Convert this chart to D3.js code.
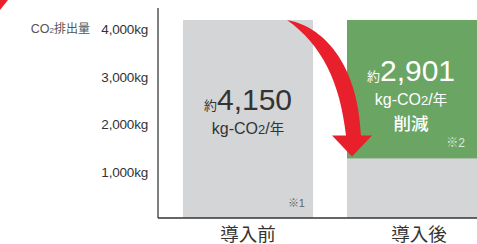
<!DOCTYPE html>
<html>
<head>
<meta charset="utf-8">
<script src="https://cdn.jsdelivr.net/npm/d3@7"></script>
<style>
  body { margin: 0; background: #fff; }
  text { font-family: "Liberation Sans", Arial, "Noto Sans CJK JP", sans-serif; }
</style>
</head>
<body>
<script>
// data
var categories = ["導入前", "導入後"];
var totals = [4150, 4150];
var reduction = [0, 2901];
var yTicks = [1000, 2000, 3000, 4000];
var tickLabels = ["1,000kg", "2,000kg", "3,000kg", "4,000kg"];
var notes = ["※1", "※2"];

var W = 477, H = 244;
var svg = d3.select("body").append("svg")
  .attr("width", W)
  .attr("height", H);

var x = d3.scaleBand()
  .domain(categories)
  .range([183, 477])
  .paddingInner(34 / 164)
  .paddingOuter(0);

var y = d3.scaleLinear()
  .domain([0, 4150])
  .range([218, 20]);

var bw = x.bandwidth();

// grey full bars
svg.selectAll(".bar")
  .data(categories)
  .enter()
  .append("rect")
  .attr("x", function(d) { return x(d); })
  .attr("y", function(d, i) { return y(totals[i]); })
  .attr("width", bw)
  .attr("height", function(d, i) { return y(0) - y(totals[i]); })
  .attr("fill", "#d4d5d7");

// green reduction part
svg.selectAll(".red")
  .data(categories)
  .enter()
  .filter(function(d, i) { return reduction[i] > 0; })
  .append("rect")
  .attr("x", function(d) { return x(d); })
  .attr("y", function(d) { var i = categories.indexOf(d); return y(totals[i]); })
  .attr("width", bw)
  .attr("height", function(d) { var i = categories.indexOf(d); return y(totals[i] - reduction[i]) - y(totals[i]); })
  .attr("fill", "#6ba564");

// axes lines
svg.append("line")
  .attr("x1", 158).attr("x2", 158)
  .attr("y1", 8).attr("y2", y(0))
  .attr("stroke", "#555").attr("stroke-width", 1.5);
svg.append("line")
  .attr("x1", 158).attr("x2", W)
  .attr("y1", y(0)).attr("y2", y(0))
  .attr("stroke", "#333").attr("stroke-width", 1.5);

// tick labels
svg.selectAll(".tick")
  .data(yTicks)
  .enter()
  .append("text")
  .attr("x", 148)
  .attr("y", function(d) { return y(d); })
  .attr("dy", "0.5em")
  .attr("text-anchor", "end")
  .attr("font-size", "13.5px")
  .attr("letter-spacing", "-0.2px")
  .attr("fill", "#333")
  .text(function(d, i) { return tickLabels[i]; });

// y title
var yt = svg.append("text")
  .attr("x", 90)
  .attr("y", y(4000))
  .attr("dy", "0.5em")
  .attr("text-anchor", "end")
  .attr("font-size", "12.5px")
  .attr("fill", "#555");
yt.append("tspan").text("CO");
yt.append("tspan").attr("font-size", "8px").text("2");
yt.append("tspan").attr("font-family", "Noto Sans CJK JP").attr("font-size", "12px").text("排出量");

// category labels
svg.selectAll(".cat")
  .data(categories)
  .enter()
  .append("text")
  .attr("x", function(d, i) { return x(d) + bw / 2 + (i == 1 ? 7 : 0); })
  .attr("y", 241)
  .attr("text-anchor", "middle")
  .attr("font-family", "Noto Sans CJK JP")
  .attr("font-size", "18.5px")
  .attr("fill", "#333")
  .text(function(d) { return d; });

// value labels inside bars
function valueLabel(cx, base, value, col, extra) {
  var t = svg.append("text")
    .attr("x", cx)
    .attr("y", base)
    .attr("text-anchor", "middle")
    .attr("fill", col);
  t.append("tspan").attr("font-family", "Noto Sans CJK JP").attr("font-size", "13px").text("約");
  t.append("tspan").attr("font-size", "30px").text(d3.format(",")(value));

  var u = svg.append("text")
    .attr("x", cx)
    .attr("y", base + 24)
    .attr("text-anchor", "middle")
    .attr("font-size", "16px")
    .attr("fill", col);
  u.append("tspan").text("kg-CO");
  u.append("tspan").attr("font-size", "13px").text("2");
  u.append("tspan").text("/");
  u.append("tspan").attr("font-family", "Noto Sans CJK JP").attr("font-size", "14.5px").text("年");

  if (extra) {
    svg.append("text")
      .attr("x", cx)
      .attr("y", base + 49)
      .attr("text-anchor", "middle")
      .attr("font-family", "Noto Sans CJK JP")
      .attr("font-weight", "500")
      .attr("font-size", "17.5px")
      .attr("fill", col)
      .text(extra);
  }
}

var c0 = categories[0], c1 = categories[1];
valueLabel(x(c0) + bw / 2, 110, totals[0], "#333", null);
valueLabel(x(c1) + bw / 2 - 1, 81, reduction[1], "#fff", "削減");

// notes
svg.append("text")
  .attr("x", x(c0) + bw - 8)
  .attr("y", 207)
  .attr("text-anchor", "end")
  .attr("font-size", "11px")
  .attr("fill", "#666")
  .text(notes[0]);
svg.append("text")
  .attr("x", x(c1) + bw - 12)
  .attr("y", 147)
  .attr("text-anchor", "end")
  .attr("font-size", "12px")
  .attr("fill", "#dfe9dc")
  .text(notes[1]);

// red arrow from top of first bar down to the reduced level
var top0 = y(totals[0]);
var low1 = y(totals[1] - reduction[1]);
var ax = x(c1) + 5;
var arrow = d3.path();
arrow.moveTo(x(c0) + bw - 26, top0);
arrow.bezierCurveTo(322, 26, 358, 62, ax + 9, low1 - 23);
arrow.lineTo(ax + 20, low1 - 23);
arrow.lineTo(ax, low1 - 2);
arrow.lineTo(ax - 20, low1 - 23);
arrow.lineTo(ax - 6, low1 - 23);
arrow.bezierCurveTo(340, 82, 322, 45, x(c0) + bw - 26, top0);
arrow.closePath();
svg.append("path")
  .attr("d", arrow.toString())
  .attr("fill", "#e8202c");

// small red piece in the corner
svg.append("path")
  .attr("d", "M0,0 L8,0 L0,10 Z")
  .attr("fill", "#e8202c");
</script>
</body>
</html>
